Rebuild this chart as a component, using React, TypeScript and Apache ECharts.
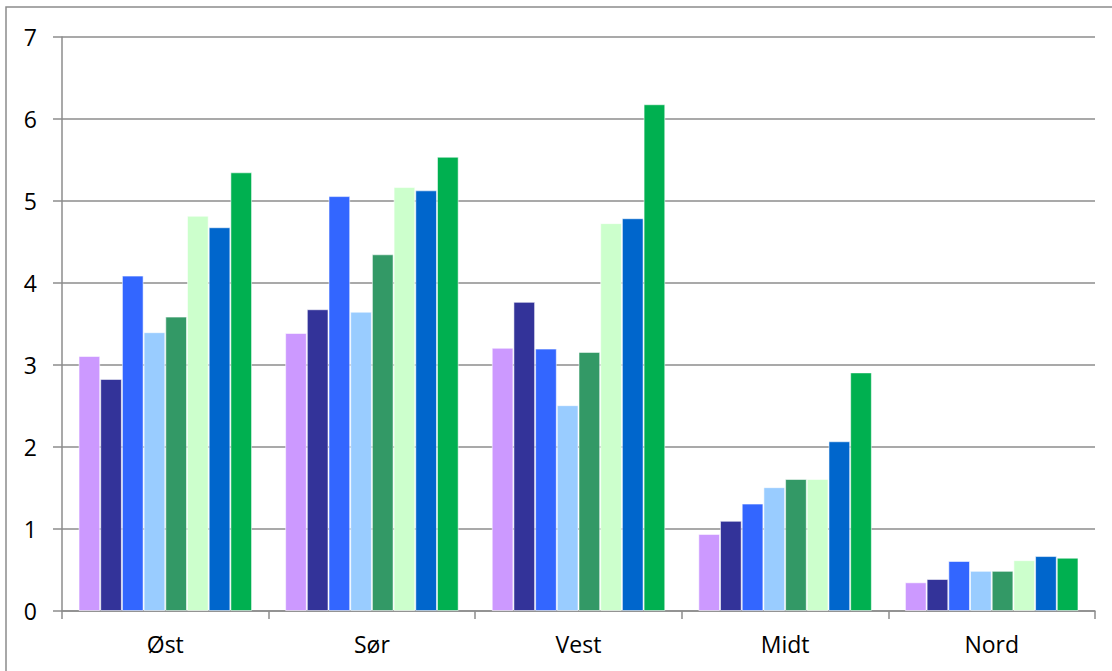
import React, { useEffect, useRef } from "react";
import * as echarts from "echarts";

const categories = ["Øst", "Sør", "Vest", "Midt", "Nord"];
const seriesNames = ["Serie 1", "Serie 2", "Serie 3", "Serie 4", "Serie 5", "Serie 6", "Serie 7", "Serie 8"];
const s1 = [3.11, 3.39, 3.21, 0.94, 0.35];
const s2 = [2.83, 3.68, 3.77, 1.10, 0.39];
const s3 = [4.09, 5.06, 3.20, 1.31, 0.61];
const s4 = [3.40, 3.65, 2.51, 1.51, 0.49];
const s5 = [3.59, 4.35, 3.16, 1.61, 0.49];
const s6 = [4.82, 5.17, 4.73, 1.61, 0.62];
const s7 = [4.68, 5.13, 4.79, 2.07, 0.67];
const s8 = [5.35, 5.54, 6.18, 2.91, 0.65];
const seriesValues = [s1, s2, s3, s4, s5, s6, s7, s8];
const colors = ["#CC99FF", "#333399", "#3366FF", "#99CCFF", "#339966", "#CCFFCC", "#0066CC", "#00B050"];
const yTicks = [0, 1, 2, 3, 4, 5, 6, 7];

export default function App() {
  const ref = useRef<HTMLDivElement>(null);
  useEffect(() => {
    document.body.style.margin = "0";
    const chart = echarts.init(ref.current!, null, { renderer: "svg" });
    const font = "'Open Sans', 'Noto Sans', sans-serif";
    chart.setOption({
      animation: false,
      backgroundColor: "#ffffff",
      textStyle: { fontFamily: font },
      graphic: [
        {
          type: "rect",
          shape: { x: 6, y: 7, width: 1200, height: 800 },
          style: { fill: "none", stroke: "#8c8c8c", lineWidth: 1.5 },
          silent: true,
        },
      ],
      grid: { left: 62, right: 17, top: 37, bottom: 60 },
      xAxis: {
        type: "category",
        data: categories,
        axisLine: { lineStyle: { color: "#8c8c8c", width: 1.5 } },
        axisTick: { show: true, length: 8, alignWithLabel: false, lineStyle: { color: "#8c8c8c", width: 1.5 } },
        axisLabel: { color: "#000", fontSize: 23, margin: 21, fontFamily: font },
      },
      yAxis: {
        type: "value",
        min: 0,
        max: 7,
        interval: 1,
        axisLine: { show: true, lineStyle: { color: "#8c8c8c", width: 1.5 } },
        axisTick: { show: true, length: 9, lineStyle: { color: "#8c8c8c", width: 1.5 } },
        axisLabel: {
          color: "#000",
          fontSize: 23,
          margin: 25,
          fontFamily: font,
          formatter: (v: number) => (yTicks.includes(v) ? String(v) : ""),
        },
        splitLine: { lineStyle: { color: "#8c8c8c", width: 1.5 } },
      },
      series: seriesValues.map((vals, i) => ({
        name: seriesNames[i],
        type: "bar",
        data: vals,
        barGap: "0%",
        barCategoryGap: "16%",
        itemStyle: { color: colors[i], borderColor: "rgba(255,255,255,0.55)", borderWidth: 1 },
      })),
    });
    return () => chart.dispose();
  }, []);
  return <div ref={ref} style={{ width: 1112, height: 671 }} />;
}
